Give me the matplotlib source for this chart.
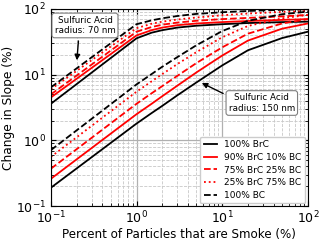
import matplotlib
matplotlib.use('Agg')
import matplotlib.pyplot as plt

# Percent of particles that are smoke
smoke_pct = [0.1, 1, 1.5, 2, 3, 5, 10, 20, 50, 100]

# Sulfuric acid radius 70 nm
r70_brc = [3.6, 35.7, 43.5, 47.5, 52, 55.5, 58.5, 61, 63, 64]
r70_90 = [4.5, 39.5, 47.5, 52, 56.5, 60, 63, 65.5, 68, 70]
r70_75 = [5.0, 45, 53, 57.5, 62, 66, 70, 73, 77, 81]
r70_25 = [6.0, 51, 59.5, 64, 69, 74, 80, 85, 90, 93]
r70_bc = [6.4, 58.5, 67, 72, 78, 84, 89, 93, 97, 99]

# Sulfuric acid radius 150 nm
r150_brc = [0.19, 1.8, 2.6, 3.35, 4.85, 7.6, 13.8, 23.5, 36, 45]
r150_90 = [0.26, 2.5, 3.6, 4.7, 6.8, 10.8, 19.5, 33, 50, 60]
r150_75 = [0.37, 3.6, 5.2, 6.7, 9.6, 15, 26, 42, 60, 70]
r150_25 = [0.56, 5.5, 7.9, 10.2, 14.5, 22, 37, 55, 72, 81]
r150_bc = [0.71, 7.1, 10.2, 13.2, 18.5, 28, 46, 66, 83, 91]

labels = ['100% BrC', '90% BrC 10% BC', '75% BrC 25% BC', '25% BrC 75% BC', '100% BC']
styles = [('k', '-'), ('r', '-'), ('r', '--'), ('r', ':'), ('k', '--')]

fig = plt.figure(figsize=(3.2, 2.41), dpi=100)
ax = fig.add_axes([0.159, 0.145, 0.803, 0.818])

for ys, (c, ls), lab in zip([r70_brc, r70_90, r70_75, r70_25, r70_bc], styles, labels):
    ax.plot(smoke_pct, ys, color=c, linestyle=ls, linewidth=1.3, label=lab)
for ys, (c, ls) in zip([r150_brc, r150_90, r150_75, r150_25, r150_bc], styles):
    ax.plot(smoke_pct, ys, color=c, linestyle=ls, linewidth=1.3)

ax.set_xscale('log')
ax.set_yscale('log')
ax.set_xlim(0.1, 100)
ax.set_ylim(0.1, 100)

ax.grid(True, which='major', color='#b0b0b0', linestyle='-', linewidth=0.9)
ax.grid(True, which='minor', color='#c8c8c8', linestyle='--', linewidth=0.6)
ax.set_axisbelow(True)
ax.tick_params(which='both', direction='in', top=True, right=True, labelsize=9)
ax.tick_params(axis='x', pad=2.5)

ax.set_xlabel('Percent of Particles that are Smoke (%)', fontsize=8.6, labelpad=1)
ax.set_ylabel('Change in Slope (%)', fontsize=8.8, labelpad=1)

box = dict(boxstyle='round,pad=0.3', fc='white', ec='#808080', lw=0.8)
ax.annotate('Sulfuric Acid\nradius: 70 nm', xy=(0.2, 15), xytext=(0.25, 56),
            ha='center', va='center', fontsize=6.3, bbox=box,
            arrowprops=dict(arrowstyle='-|>', color='k', lw=1, mutation_scale=8,
                            relpos=(0.4, 0.0)))
ax.annotate('Sulfuric Acid\nradius: 150 nm', xy=(5.4, 7.8), xytext=(29, 3.7),
            ha='center', va='center', fontsize=6.3, bbox=box,
            arrowprops=dict(arrowstyle='-|>', color='k', lw=1, mutation_scale=8,
                            relpos=(0.0, 0.85)))

ax.legend(loc='lower right', fontsize=6.5, framealpha=1, borderaxespad=0.3,
          handlelength=1.5, labelspacing=0.4)

fig.savefig('out.png', dpi=100)
